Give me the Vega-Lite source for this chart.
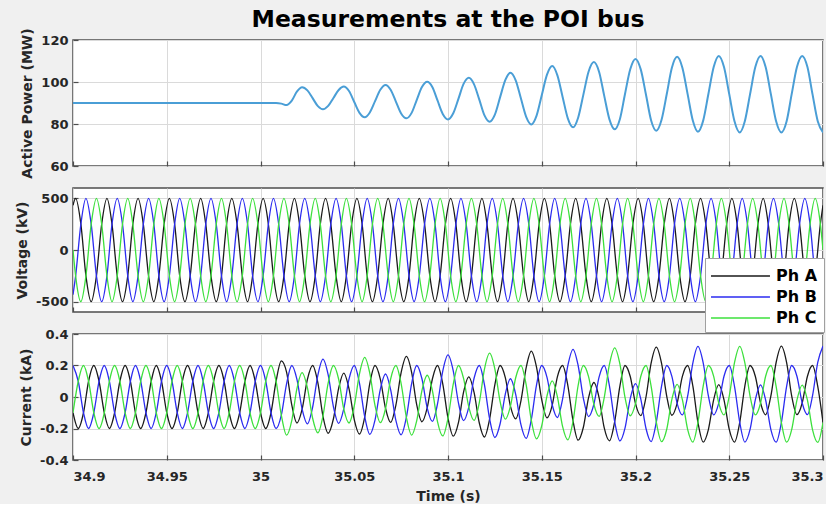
{
  "$schema": "https://vega.github.io/schema/vega-lite/v6.json",
  "background": "#f0f0f0",
  "padding": {"left": 14, "top": 7, "right": 0, "bottom": 0},
  "title": {"text": "Measurements at the POI bus", "font": "DejaVu Sans", "fontSize": 23.5, "fontWeight": "bold", "color": "#000000", "anchor": "middle", "frame": "group", "offset": -4},
  "spacing": 22,
  "bounds": "flush",
  "config": {
    "view": {"stroke": "#4d4d4d", "strokeWidth": 1.5, "fill": "white"},
    "font": "DejaVu Sans",
    "axis": {
      "labelFont": "DejaVu Sans", "labelFontWeight": "bold", "labelFontSize": 13, "labelColor": "#262626",
      "titleFont": "DejaVu Sans", "titleFontWeight": "bold", "titleFontSize": 14, "titleColor": "#262626",
      "gridColor": "#dadada", "gridOpacity": 1, "gridWidth": 1, "domain": false,
      "ticks": true, "tickSize": -5, "tickColor": "#4d4d4d", "tickWidth": 1.2
    },
    "axisY": {"labelPadding": 10, "titlePadding": 6},
    "axisX": {"labelPadding": 15, "titlePadding": 6}
  },
  "resolve": {"scale": {"color": "independent"}},
  "datasets": {
    "v": [
      {"t":34.9,"a":433,"b":-433,"c":0},
      {"t":34.9014,"a":500,"b":-250,"c":-250},{"t":34.9042,"a":250,"b":250,"c":-500},{"t":34.9069,"a":-250,"b":500,"c":-250},{"t":34.9097,"a":-500,"b":250,"c":250},{"t":34.9125,"a":-250,"b":-250,"c":500},{"t":34.9153,"a":250,"b":-500,"c":250},
      {"t":34.9181,"a":500,"b":-250,"c":-250},{"t":34.9208,"a":250,"b":250,"c":-500},{"t":34.9236,"a":-250,"b":500,"c":-250},{"t":34.9264,"a":-500,"b":250,"c":250},{"t":34.9292,"a":-250,"b":-250,"c":500},{"t":34.9319,"a":250,"b":-500,"c":250},
      {"t":34.9347,"a":500,"b":-250,"c":-250},{"t":34.9375,"a":250,"b":250,"c":-500},{"t":34.9403,"a":-250,"b":500,"c":-250},{"t":34.9431,"a":-500,"b":250,"c":250},{"t":34.9458,"a":-250,"b":-250,"c":500},{"t":34.9486,"a":250,"b":-500,"c":250},
      {"t":34.9514,"a":500,"b":-250,"c":-250},{"t":34.9542,"a":250,"b":250,"c":-500},{"t":34.9569,"a":-250,"b":500,"c":-250},{"t":34.9597,"a":-500,"b":250,"c":250},{"t":34.9625,"a":-250,"b":-250,"c":500},{"t":34.9653,"a":250,"b":-500,"c":250},
      {"t":34.9681,"a":500,"b":-250,"c":-250},{"t":34.9708,"a":250,"b":250,"c":-500},{"t":34.9736,"a":-250,"b":500,"c":-250},{"t":34.9764,"a":-500,"b":250,"c":250},{"t":34.9792,"a":-250,"b":-250,"c":500},{"t":34.9819,"a":250,"b":-500,"c":250},
      {"t":34.9847,"a":500,"b":-250,"c":-250},{"t":34.9875,"a":250,"b":250,"c":-500},{"t":34.9903,"a":-250,"b":500,"c":-250},{"t":34.9931,"a":-500,"b":250,"c":250},{"t":34.9958,"a":-250,"b":-250,"c":500},{"t":34.9986,"a":250,"b":-500,"c":250},
      {"t":35.0014,"a":500,"b":-250,"c":-250},{"t":35.0042,"a":250,"b":250,"c":-500},{"t":35.0069,"a":-250,"b":500,"c":-250},{"t":35.0097,"a":-500,"b":250,"c":250},{"t":35.0125,"a":-250,"b":-250,"c":500},{"t":35.0153,"a":250,"b":-500,"c":250},
      {"t":35.0181,"a":500,"b":-250,"c":-250},{"t":35.0208,"a":250,"b":250,"c":-500},{"t":35.0236,"a":-250,"b":500,"c":-250},{"t":35.0264,"a":-500,"b":250,"c":250},{"t":35.0292,"a":-250,"b":-250,"c":500},{"t":35.0319,"a":250,"b":-500,"c":250},
      {"t":35.0347,"a":500,"b":-250,"c":-250},{"t":35.0375,"a":250,"b":250,"c":-500},{"t":35.0403,"a":-250,"b":500,"c":-250},{"t":35.0431,"a":-500,"b":250,"c":250},{"t":35.0458,"a":-250,"b":-250,"c":500},{"t":35.0486,"a":250,"b":-500,"c":250},
      {"t":35.0514,"a":500,"b":-250,"c":-250},{"t":35.0542,"a":250,"b":250,"c":-500},{"t":35.0569,"a":-250,"b":500,"c":-250},{"t":35.0597,"a":-500,"b":250,"c":250},{"t":35.0625,"a":-250,"b":-250,"c":500},{"t":35.0653,"a":250,"b":-500,"c":250},
      {"t":35.0681,"a":500,"b":-250,"c":-250},{"t":35.0708,"a":250,"b":250,"c":-500},{"t":35.0736,"a":-250,"b":500,"c":-250},{"t":35.0764,"a":-500,"b":250,"c":250},{"t":35.0792,"a":-250,"b":-250,"c":500},{"t":35.0819,"a":250,"b":-500,"c":250},
      {"t":35.0847,"a":500,"b":-250,"c":-250},{"t":35.0875,"a":250,"b":250,"c":-500},{"t":35.0903,"a":-250,"b":500,"c":-250},{"t":35.0931,"a":-500,"b":250,"c":250},{"t":35.0958,"a":-250,"b":-250,"c":500},{"t":35.0986,"a":250,"b":-500,"c":250},
      {"t":35.1014,"a":500,"b":-250,"c":-250},{"t":35.1042,"a":250,"b":250,"c":-500},{"t":35.1069,"a":-250,"b":500,"c":-250},{"t":35.1097,"a":-500,"b":250,"c":250},{"t":35.1125,"a":-250,"b":-250,"c":500},{"t":35.1153,"a":250,"b":-500,"c":250},
      {"t":35.1181,"a":500,"b":-250,"c":-250},{"t":35.1208,"a":250,"b":250,"c":-500},{"t":35.1236,"a":-250,"b":500,"c":-250},{"t":35.1264,"a":-500,"b":250,"c":250},{"t":35.1292,"a":-250,"b":-250,"c":500},{"t":35.1319,"a":250,"b":-500,"c":250},
      {"t":35.1347,"a":500,"b":-250,"c":-250},{"t":35.1375,"a":250,"b":250,"c":-500},{"t":35.1403,"a":-250,"b":500,"c":-250},{"t":35.1431,"a":-500,"b":250,"c":250},{"t":35.1458,"a":-250,"b":-250,"c":500},{"t":35.1486,"a":250,"b":-500,"c":250},
      {"t":35.1514,"a":500,"b":-250,"c":-250},{"t":35.1542,"a":250,"b":250,"c":-500},{"t":35.1569,"a":-250,"b":500,"c":-250},{"t":35.1597,"a":-500,"b":250,"c":250},{"t":35.1625,"a":-250,"b":-250,"c":500},{"t":35.1653,"a":250,"b":-500,"c":250},
      {"t":35.1681,"a":500,"b":-250,"c":-250},{"t":35.1708,"a":250,"b":250,"c":-500},{"t":35.1736,"a":-250,"b":500,"c":-250},{"t":35.1764,"a":-500,"b":250,"c":250},{"t":35.1792,"a":-250,"b":-250,"c":500},{"t":35.1819,"a":250,"b":-500,"c":250},
      {"t":35.1847,"a":500,"b":-250,"c":-250},{"t":35.1875,"a":250,"b":250,"c":-500},{"t":35.1903,"a":-250,"b":500,"c":-250},{"t":35.1931,"a":-500,"b":250,"c":250},{"t":35.1958,"a":-250,"b":-250,"c":500},{"t":35.1986,"a":250,"b":-500,"c":250},
      {"t":35.2014,"a":500,"b":-250,"c":-250},{"t":35.2042,"a":250,"b":250,"c":-500},{"t":35.2069,"a":-250,"b":500,"c":-250},{"t":35.2097,"a":-500,"b":250,"c":250},{"t":35.2125,"a":-250,"b":-250,"c":500},{"t":35.2153,"a":250,"b":-500,"c":250},
      {"t":35.2181,"a":500,"b":-250,"c":-250},{"t":35.2208,"a":250,"b":250,"c":-500},{"t":35.2236,"a":-250,"b":500,"c":-250},{"t":35.2264,"a":-500,"b":250,"c":250},{"t":35.2292,"a":-250,"b":-250,"c":500},{"t":35.2319,"a":250,"b":-500,"c":250},
      {"t":35.2347,"a":500,"b":-250,"c":-250},{"t":35.2375,"a":250,"b":250,"c":-500},{"t":35.2403,"a":-250,"b":500,"c":-250},{"t":35.2431,"a":-500,"b":250,"c":250},{"t":35.2458,"a":-250,"b":-250,"c":500},{"t":35.2486,"a":250,"b":-500,"c":250},
      {"t":35.2514,"a":500,"b":-250,"c":-250},{"t":35.2542,"a":250,"b":250,"c":-500},{"t":35.2569,"a":-250,"b":500,"c":-250},{"t":35.2597,"a":-500,"b":250,"c":250},{"t":35.2625,"a":-250,"b":-250,"c":500},{"t":35.2653,"a":250,"b":-500,"c":250},
      {"t":35.2681,"a":500,"b":-250,"c":-250},{"t":35.2708,"a":250,"b":250,"c":-500},{"t":35.2736,"a":-250,"b":500,"c":-250},{"t":35.2764,"a":-500,"b":250,"c":250},{"t":35.2792,"a":-250,"b":-250,"c":500},{"t":35.2819,"a":250,"b":-500,"c":250},
      {"t":35.2847,"a":500,"b":-250,"c":-250},{"t":35.2875,"a":250,"b":250,"c":-500},{"t":35.2903,"a":-250,"b":500,"c":-250},{"t":35.2931,"a":-500,"b":250,"c":250},{"t":35.2958,"a":-250,"b":-250,"c":500},{"t":35.2986,"a":250,"b":-500,"c":250},
      {"t":35.3,"a":433,"b":-433,"c":0}
    ],
    "i": [
      {"t":34.9,"a":-0.1,"b":0.2,"c":-0.1,"p":90},{"t":34.9028,"a":-0.2,"b":0.1,"c":0.1,"p":90},{"t":34.9056,"a":-0.1,"b":-0.1,"c":0.2,"p":90},{"t":34.9083,"a":0.1,"b":-0.2,"c":0.1,"p":90},{"t":34.9111,"a":0.2,"b":-0.1,"c":-0.1,"p":90},{"t":34.9139,"a":0.1,"b":0.1,"c":-0.2,"p":90},
      {"t":34.9167,"a":-0.1,"b":0.2,"c":-0.1,"p":90},{"t":34.9194,"a":-0.2,"b":0.1,"c":0.1,"p":90},{"t":34.9222,"a":-0.1,"b":-0.1,"c":0.2,"p":90},{"t":34.925,"a":0.1,"b":-0.2,"c":0.1,"p":90},{"t":34.9278,"a":0.2,"b":-0.1,"c":-0.1,"p":90},{"t":34.9306,"a":0.1,"b":0.1,"c":-0.2,"p":90},
      {"t":34.9333,"a":-0.1,"b":0.2,"c":-0.1,"p":90},{"t":34.9361,"a":-0.2,"b":0.1,"c":0.1,"p":90},{"t":34.9389,"a":-0.1,"b":-0.1,"c":0.2,"p":90},{"t":34.9417,"a":0.1,"b":-0.2,"c":0.1,"p":90},{"t":34.9444,"a":0.2,"b":-0.1,"c":-0.1,"p":90},{"t":34.9472,"a":0.1,"b":0.1,"c":-0.2,"p":90},
      {"t":34.95,"a":-0.1,"b":0.2,"c":-0.1,"p":90},{"t":34.9528,"a":-0.2,"b":0.1,"c":0.1,"p":90},{"t":34.9556,"a":-0.1,"b":-0.1,"c":0.2,"p":90},{"t":34.9583,"a":0.1,"b":-0.2,"c":0.1,"p":90},{"t":34.9611,"a":0.2,"b":-0.1,"c":-0.1,"p":90},{"t":34.9639,"a":0.1,"b":0.1,"c":-0.2,"p":90},
      {"t":34.9667,"a":-0.1,"b":0.2,"c":-0.1,"p":90},{"t":34.9694,"a":-0.2,"b":0.1,"c":0.1,"p":90},{"t":34.9722,"a":-0.1,"b":-0.1,"c":0.2,"p":90},{"t":34.975,"a":0.1,"b":-0.2,"c":0.1,"p":90},{"t":34.9778,"a":0.2,"b":-0.1,"c":-0.1,"p":90},{"t":34.9806,"a":0.1,"b":0.1,"c":-0.2,"p":90},
      {"t":34.9833,"a":-0.1,"b":0.2,"c":-0.1,"p":90},{"t":34.9861,"a":-0.2,"b":0.1,"c":0.1,"p":90},{"t":34.9889,"a":-0.1,"b":-0.1,"c":0.2,"p":90},{"t":34.9917,"a":0.1,"b":-0.2,"c":0.1,"p":90},{"t":34.9944,"a":0.2,"b":-0.1,"c":-0.1,"p":90},{"t":34.9972,"a":0.1,"b":0.1,"c":-0.2,"p":90},
      {"t":35,"a":-0.1,"b":0.2,"c":-0.1,"p":90},{"t":35.0028,"a":-0.2,"b":0.1,"c":0.1,"p":90},{"t":35.0056,"a":-0.1,"b":-0.1,"c":0.2,"p":90},{"t":35.0083,"a":0.1,"b":-0.2,"c":0.1,"p":90},
      {"t":35.0111,"a":0.23,"b":-0.115,"c":-0.115,"p":89.7},
      {"t":35.0139,"a":0.158,"b":0.084,"c":-0.242,"p":89},
      {"t":35.0167,"a":-0.052,"b":0.2,"c":-0.148,"p":91.1},
      {"t":35.0194,"a":-0.165,"b":0.113,"c":0.052,"p":95.4},
      {"t":35.0222,"a":-0.077,"b":-0.077,"c":0.155,"p":97.5},
      {"t":35.025,"a":0.111,"b":-0.17,"c":0.059,"p":96},
      {"t":35.0278,"a":0.2,"b":-0.065,"c":-0.135,"p":92.3},
      {"t":35.0306,"a":0.09,"b":0.139,"c":-0.228,"p":88.5},
      {"t":35.0333,"a":-0.121,"b":0.241,"c":-0.121,"p":87},
      {"t":35.0361,"a":-0.23,"b":0.141,"c":0.089,"p":88.6},
      {"t":35.0389,"a":-0.138,"b":-0.062,"c":0.2,"p":92.4},
      {"t":35.0417,"a":0.056,"b":-0.167,"c":0.112,"p":96.2},
      {"t":35.0444,"a":0.152,"b":-0.076,"c":-0.076,"p":97.8},
      {"t":35.0472,"a":0.053,"b":0.113,"c":-0.165,"p":95.7},
      {"t":35.05,"a":-0.143,"b":0.2,"c":-0.057,"p":90.5},
      {"t":35.0528,"a":-0.235,"b":0.087,"c":0.148,"p":85.3},
      {"t":35.0556,"a":-0.126,"b":-0.126,"c":0.251,"p":83.2},
      {"t":35.0583,"a":0.087,"b":-0.237,"c":0.15,"p":85.5},
      {"t":35.0611,"a":0.2,"b":-0.145,"c":-0.055,"p":90.9},
      {"t":35.0639,"a":0.114,"b":0.049,"c":-0.163,"p":96.3},
      {"t":35.0667,"a":-0.073,"b":0.146,"c":-0.073,"p":98.6},
      {"t":35.0694,"a":-0.161,"b":0.047,"c":0.114,"p":96.3},
      {"t":35.0722,"a":-0.052,"b":-0.148,"c":0.2,"p":90.7},
      {"t":35.075,"a":0.155,"b":-0.24,"c":0.085,"p":85},
      {"t":35.0778,"a":0.258,"b":-0.129,"c":-0.129,"p":82.7},
      {"t":35.0806,"a":0.157,"b":0.085,"c":-0.242,"p":85.3},
      {"t":35.0833,"a":-0.048,"b":0.2,"c":-0.152,"p":91.4},
      {"t":35.0861,"a":-0.157,"b":0.116,"c":0.041,"p":97.6},
      {"t":35.0889,"a":-0.069,"b":-0.069,"c":0.138,"p":100.1},
      {"t":35.0917,"a":0.116,"b":-0.155,"c":0.039,"p":97.5},
      {"t":35.0944,"a":0.2,"b":-0.044,"c":-0.156,"p":91.2},
      {"t":35.0972,"a":0.083,"b":0.164,"c":-0.247,"p":84.8},
      {"t":35.1,"a":-0.134,"b":0.267,"c":-0.134,"p":82.2},
      {"t":35.1028,"a":-0.248,"b":0.166,"c":0.082,"p":85.1},
      {"t":35.1056,"a":-0.161,"b":-0.039,"c":0.2,"p":92.1},
      {"t":35.1083,"a":0.031,"b":-0.15,"c":0.118,"p":99.1},
      {"t":35.1111,"a":0.128,"b":-0.064,"c":-0.064,"p":102},
      {"t":35.1139,"a":0.029,"b":0.119,"c":-0.148,"p":98.9},
      {"t":35.1167,"a":-0.165,"b":0.2,"c":-0.035,"p":91.6},
      {"t":35.1194,"a":-0.254,"b":0.08,"c":0.174,"p":84.2},
      {"t":35.1222,"a":-0.139,"b":-0.139,"c":0.278,"p":81.1},
      {"t":35.125,"a":0.079,"b":-0.257,"c":0.177,"p":84.5},
      {"t":35.1278,"a":0.2,"b":-0.17,"c":-0.03,"p":92.8},
      {"t":35.1306,"a":0.121,"b":0.02,"c":-0.141,"p":101},
      {"t":35.1333,"a":-0.058,"b":0.116,"c":-0.058,"p":104.4},
      {"t":35.1361,"a":-0.139,"b":0.017,"c":0.122,"p":100.8},
      {"t":35.1389,"a":-0.024,"b":-0.176,"c":0.2,"p":92.1},
      {"t":35.1417,"a":0.186,"b":-0.263,"c":0.077,"p":83.4},
      {"t":35.1444,"a":0.291,"b":-0.146,"c":-0.146,"p":79.8},
      {"t":35.1472,"a":0.19,"b":0.076,"c":-0.266,"p":83.9},
      {"t":35.15,"a":-0.018,"b":0.2,"c":-0.182,"p":93.7},
      {"t":35.1528,"a":-0.132,"b":0.125,"c":0.007,"p":103.5},
      {"t":35.1556,"a":-0.051,"b":-0.051,"c":0.102,"p":107.6},
      {"t":35.1583,"a":0.126,"b":-0.13,"c":0.004,"p":103.3},
      {"t":35.1611,"a":0.2,"b":-0.013,"c":-0.187,"p":93},
      {"t":35.1639,"a":0.074,"b":0.199,"c":-0.272,"p":82.7},
      {"t":35.1667,"a":-0.152,"b":0.303,"c":-0.152,"p":78.4},
      {"t":35.1694,"a":-0.274,"b":0.2,"c":0.073,"p":83},
      {"t":35.1722,"a":-0.192,"b":-0.008,"c":0.2,"p":94},
      {"t":35.175,"a":-0.003,"b":-0.124,"c":0.128,"p":105},
      {"t":35.1778,"a":0.092,"b":-0.046,"c":-0.046,"p":109.5},
      {"t":35.1806,"a":-0.005,"b":0.128,"c":-0.123,"p":104.8},
      {"t":35.1833,"a":-0.195,"b":0.2,"c":-0.005,"p":93.5},
      {"t":35.1861,"a":-0.278,"b":0.071,"c":0.207,"p":82.2},
      {"t":35.1889,"a":-0.156,"b":-0.156,"c":0.312,"p":77.5},
      {"t":35.1917,"a":0.071,"b":-0.279,"c":0.208,"p":82.4},
      {"t":35.1944,"a":0.2,"b":-0.198,"c":-0.002,"p":94.3},
      {"t":35.1972,"a":0.13,"b":-0.01,"c":-0.119,"p":106.1},
      {"t":35.2,"a":-0.042,"b":0.085,"c":-0.042,"p":111},
      {"t":35.2028,"a":-0.118,"b":-0.012,"c":0.13,"p":106},
      {"t":35.2056,"a":0,"b":-0.2,"c":0.2,"p":93.9},
      {"t":35.2083,"a":0.213,"b":-0.283,"c":0.07,"p":81.8},
      {"t":35.2111,"a":0.317,"b":-0.159,"c":-0.159,"p":76.8},
      {"t":35.2139,"a":0.214,"b":0.069,"c":-0.283,"p":82},
      {"t":35.2167,"a":0.003,"b":0.2,"c":-0.203,"p":94.4},
      {"t":35.2194,"a":-0.116,"b":0.131,"c":-0.015,"p":106.8},
      {"t":35.2222,"a":-0.04,"b":-0.04,"c":0.08,"p":112},
      {"t":35.225,"a":0.131,"b":-0.114,"c":-0.017,"p":106.8},
      {"t":35.2278,"a":0.2,"b":0.005,"c":-0.205,"p":94.2},
      {"t":35.2306,"a":0.069,"b":0.217,"c":-0.286,"p":81.5},
      {"t":35.2333,"a":-0.161,"b":0.321,"c":-0.161,"p":76.3},
      {"t":35.2361,"a":-0.286,"b":0.217,"c":0.069,"p":81.6},
      {"t":35.2389,"a":-0.205,"b":0.005,"c":0.2,"p":94.4},
      {"t":35.2417,"a":-0.017,"b":-0.114,"c":0.131,"p":107.1},
      {"t":35.2444,"a":0.078,"b":-0.039,"c":-0.039,"p":112.4},
      {"t":35.2472,"a":-0.018,"b":0.132,"c":-0.114,"p":107.1},
      {"t":35.25,"a":-0.206,"b":0.2,"c":0.006,"p":94.2},
      {"t":35.2528,"a":-0.286,"b":0.068,"c":0.218,"p":81.3},
      {"t":35.2556,"a":-0.161,"b":-0.161,"c":0.322,"p":76},
      {"t":35.2583,"a":0.068,"b":-0.286,"c":0.218,"p":81.3},
      {"t":35.2611,"a":0.2,"b":-0.206,"c":0.006,"p":94.2},
      {"t":35.2639,"a":0.132,"b":-0.018,"c":-0.114,"p":107.1},
      {"t":35.2667,"a":-0.038,"b":0.077,"c":-0.038,"p":112.4},
      {"t":35.2694,"a":-0.113,"b":-0.019,"c":0.132,"p":107.1},
      {"t":35.2722,"a":0.007,"b":-0.207,"c":0.2,"p":94.2},
      {"t":35.275,"a":0.219,"b":-0.287,"c":0.068,"p":81.3},
      {"t":35.2778,"a":0.323,"b":-0.162,"c":-0.162,"p":76},
      {"t":35.2806,"a":0.219,"b":0.068,"c":-0.287,"p":81.3},
      {"t":35.2833,"a":0.007,"b":0.2,"c":-0.207,"p":94.2},
      {"t":35.2861,"a":-0.112,"b":0.132,"c":-0.02,"p":107.1},
      {"t":35.2889,"a":-0.038,"b":-0.038,"c":0.076,"p":112.4},
      {"t":35.2917,"a":0.132,"b":-0.112,"c":-0.02,"p":107.1},
      {"t":35.2944,"a":0.2,"b":0.007,"c":-0.207,"p":94.2},
      {"t":35.2972,"a":0.068,"b":0.22,"c":-0.288,"p":81.3},
      {"t":35.3,"a":-0.162,"b":0.324,"c":-0.162,"p":76}
    ]
  },
  "vconcat": [
    {
      "width": 750, "height": 126,
      "data": {"name": "i"},
      "mark": {"type": "line", "interpolate": "monotone", "color": "#4a9ed6", "strokeWidth": 2, "clip": true},
      "encoding": {
        "x": {"field": "t", "type": "quantitative", "scale": {"domain": [34.9, 35.3], "nice": false, "zero": false},
              "axis": {"values": [34.9, 34.95, 35, 35.05, 35.1, 35.15, 35.2, 35.25, 35.3], "labels": false, "title": null, "grid": true}},
        "y": {"field": "p", "type": "quantitative", "scale": {"domain": [60, 120], "nice": false, "zero": false},
              "axis": {"values": [60, 80, 100, 120], "title": "Active Power (MW)", "grid": true, "format": "d"}}
      }
    },
    {
      "width": 750, "height": 124,
      "data": {"name": "v"},
      "transform": [{"fold": ["a", "b", "c"], "as": ["ph", "val"]}],
      "mark": {"type": "line", "interpolate": "monotone", "strokeWidth": 1.3, "clip": true},
      "encoding": {
        "x": {"field": "t", "type": "quantitative", "scale": {"domain": [34.9, 35.3], "nice": false, "zero": false},
              "axis": {"values": [34.9, 34.95, 35, 35.05, 35.1, 35.15, 35.2, 35.25, 35.3], "labels": false, "title": null, "grid": true}},
        "y": {"field": "val", "type": "quantitative", "scale": {"domain": [-600, 600], "nice": false, "zero": false},
              "axis": {"values": [-500, 0, 500], "title": "Voltage (kV)", "grid": true, "labelExpr": "replace(format(datum.value, 'd'), '\u2212', '-')"}},
        "color": {"field": "ph", "type": "nominal",
                  "scale": {"domain": ["a", "b", "c"], "range": ["#1a1a1a", "#2b2bf0", "#3ce03c"]},
                  "legend": {"orient": "none", "legendX": 632, "legendY": 70, "title": null,
                             "labelExpr": "'Ph ' + upper(datum.label)",
                             "symbolType": "M-1.09,0H4.27", "symbolSize": 484, "symbolStrokeWidth": 1.5,
                             "labelOffset": 41, "labelFontSize": 16, "labelFont": "DejaVu Sans", "labelFontWeight": "bold", "labelColor": "#000000",
                             "fillColor": "white", "strokeColor": "#a0a0a0", "padding": 6, "rowPadding": 1}}
      }
    },
    {
      "width": 750, "height": 126,
      "data": {"name": "i"},
      "transform": [{"fold": ["a", "b", "c"], "as": ["ph", "val"]}],
      "mark": {"type": "line", "interpolate": "monotone", "strokeWidth": 1.3, "clip": true},
      "encoding": {
        "x": {"field": "t", "type": "quantitative", "scale": {"domain": [34.9, 35.3], "nice": false, "zero": false},
              "axis": {"values": [34.9, 34.95, 35, 35.05, 35.1, 35.15, 35.2, 35.25, 35.3], "format": "~g", "title": "Time (s)", "grid": true}},
        "y": {"field": "val", "type": "quantitative", "scale": {"domain": [-0.4, 0.4], "nice": false, "zero": false},
              "axis": {"values": [-0.4, -0.2, 0, 0.2, 0.4], "title": "Current (kA)", "grid": true, "labelExpr": "replace(format(datum.value, '~g'), '\u2212', '-')"}},
        "color": {"field": "ph", "type": "nominal",
                  "scale": {"domain": ["a", "b", "c"], "range": ["#1a1a1a", "#2b2bf0", "#3ce03c"]},
                  "legend": null}
      }
    }
  ]
}
